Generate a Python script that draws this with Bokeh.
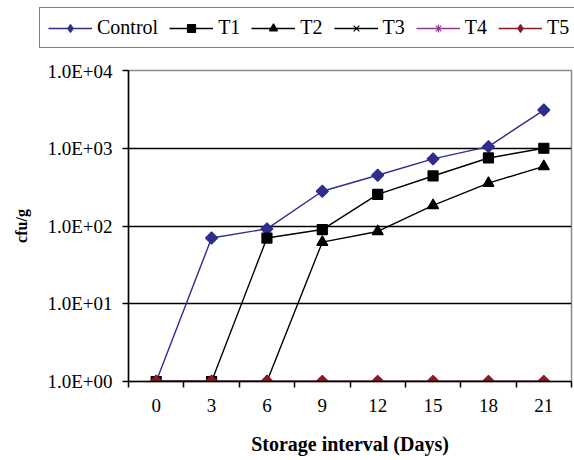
import numpy as np
from bokeh.plotting import figure
from bokeh.layouts import column
from bokeh.models import (FixedTicker, CustomJSTickFormatter, Legend, LegendItem, Range1d)
from bokeh.embed import file_html
from bokeh.resources import INLINE

days = [0, 3, 6, 9, 12, 15, 18, 21]
control = [1, 70, 92, 280, 450, 730, 1050, 3100]
t1 = [1, 1, 70, 90, 255, 440, 750, 1000]
t2 = [1, 1, 1, 62, 85, 184, 356, 585]
t3 = [1, 1, 1, 1, 1, 1, 1, 1]
t4 = [1, 1, 1, 1, 1, 1, 1, 1]
t5 = [1, 1, 1, 1, 1, 1, 1, 1]
y_ticks = [1, 10, 100, 1000, 10000]
x_bounds = [-1.5, 1.5, 4.5, 7.5, 10.5, 13.5, 16.5, 19.5, 22.5]

FONT = "Liberation Serif"

p = figure(width=574, height=400, y_axis_type="log",
           x_range=Range1d(-1.5, 22.5), y_range=Range1d(1, 10000),
           output_backend="svg", toolbar_location=None,
           min_border_left=128, min_border_right=3,
           min_border_top=10, min_border_bottom=79)

p.background_fill_color = "white"
p.border_fill_color = "white"
p.outline_line_color = "#8a8a8a"
p.outline_line_width = 1.5

# grid
p.xgrid.visible = False
p.ygrid.ticker = FixedTicker(ticks=[10, 100, 1000])
p.ygrid.grid_line_color = "black"
p.ygrid.grid_line_width = 1.3

# axes
p.xaxis.ticker = FixedTicker(ticks=days, minor_ticks=x_bounds)
p.xaxis.major_tick_out = 0
p.xaxis.major_tick_in = 0
p.xaxis.minor_tick_out = 6
p.xaxis.minor_tick_in = 0
p.xaxis.minor_tick_line_color = "black"
p.xaxis.minor_tick_line_width = 1.5
p.yaxis.ticker = FixedTicker(ticks=y_ticks, minor_ticks=[])
p.yaxis.formatter = CustomJSTickFormatter(code="""
    const e = Math.round(Math.log10(tick));
    return "1.0E+" + String(e).padStart(2, "0");
""")
p.yaxis.major_tick_out = 6
p.yaxis.major_tick_in = 0
p.yaxis.minor_tick_out = 0
p.yaxis.minor_tick_in = 0
for ax in (p.xaxis[0], p.yaxis[0]):
    ax.axis_line_color = "black"
    ax.axis_line_width = 1.5
    ax.major_tick_line_color = "black"
    ax.major_tick_line_width = 1.5
    ax.major_label_text_font = FONT
    ax.major_label_text_font_size = "19px"
    ax.major_label_text_color = "black"
    ax.axis_label_text_font = FONT
    ax.axis_label_text_font_style = "bold"
    ax.axis_label_text_color = "black"

p.xaxis.axis_label = "Storage interval (Days)"
p.xaxis.axis_label_text_font_size = "20px"
p.xaxis.major_label_standoff = 11
p.xaxis.axis_label_standoff = 18
p.yaxis.axis_label = "cfu/g"
p.yaxis.axis_label_text_font_size = "16px"
p.yaxis.major_label_standoff = 10
p.yaxis.axis_label_standoff = 14

series = [
    ("Control", control, "#2E2E8F", "square", 8.5, np.pi / 4, "diamond", 11),
    ("T1", t1, "black", "square", 10, 0, "square", 8),
    ("T2", t2, "black", "triangle", 11, 0, "triangle", 9),
    ("T3", t3, "black", "x", 8, 0, "x", 7),
    ("T4", t4, "#8E3A8E", "asterisk", 9, 0, "asterisk", 8),
    ("T5", t5, "#8B1A24", "square", 8.5, np.pi / 4, "diamond", 11),
]

# legend strip above the plot
lg = figure(width=574, height=60, x_range=Range1d(100, 101), y_range=Range1d(100, 101),
            output_backend="svg", toolbar_location=None,
            x_axis_location=None, y_axis_location=None,
            min_border_left=0, min_border_right=0, min_border_top=0, min_border_bottom=0)
lg.outline_line_color = None
lg.xgrid.visible = False
lg.ygrid.visible = False
if "frame_align" in lg.properties():
    lg.frame_align = False
    p.frame_align = False

items = []
for name, vals, col, mk, sz, ang, lmk, lsz in series:
    p.line(days, vals, line_color=col, line_width=1.4)
    p.scatter(days, vals, marker=mk, size=sz, angle=ang,
              fill_color=col, line_color=col, line_width=1.2)
    lr = lg.line(days, vals, line_color=col, line_width=1.4)
    sr = lg.scatter(days, vals, marker=lmk, size=lsz,
                    fill_color=col, line_color=col, line_width=1.2)
    items.append(LegendItem(label=name, renderers=[lr, sr]))

legend = Legend(items=items, orientation="horizontal",
                location=(39, 12), margin=0, padding=8,
                spacing=11, label_standoff=5, glyph_width=44, glyph_height=20,
                border_line_color="black", border_line_width=1.5,
                background_fill_color="white", background_fill_alpha=1)
legend.label_text_font = "serif"
legend.label_text_font_style = "normal"
legend.label_text_font_size = "20px"
legend.label_text_color = "black"
lg.add_layout(legend, "center")

layout = column(lg, p, spacing=0)
open("out.html", "w").write(file_html(layout, INLINE))
